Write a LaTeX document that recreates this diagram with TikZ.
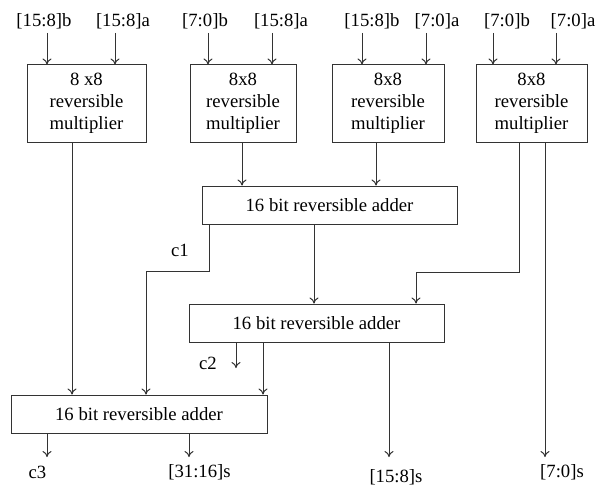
\documentclass[tikz,border=0pt]{standalone}
\usepackage{fontspec}
\setmainfont{Liberation Serif}
\usetikzlibrary{arrows.meta}
\definecolor{linec}{HTML}{333333}
\begin{document}
\begin{tikzpicture}[x=1pt,y=-1pt,
  every node/.style={font=\fontsize{18.7}{22}\selectfont, inner sep=0pt, text=black},
  blk/.style={draw=linec, line width=1pt, fill=white, align=center},
  mult/.style={blk, minimum height=77pt},
  addr/.style={blk, minimum width=255pt, minimum height=38pt},
  wire/.style={draw=linec, line width=1pt},
  arr/.style={wire, -{To[length=6pt,width=9pt]}}]
\useasboundingbox (0,0) rectangle (605,487);

% multipliers
\node[mult, minimum width=119pt] (M1) at (86.5,103.5) {8 x8\\reversible\\multiplier};
\node[mult, minimum width=106pt] (M2) at (243,103.5) {8x8\\reversible\\multiplier};
\node[mult, minimum width=112pt] (M3) at (388,103.5) {8x8\\reversible\\multiplier};
\node[mult, minimum width=111pt] (M4) at (531.5,103.5) {8x8\\reversible\\multiplier};

% adders
\node[addr] (A1) at (329.5,205) {16 bit reversible adder};
\node[addr] (A2) at (316.5,323) {16 bit reversible adder};
\node[addr, minimum width=256pt] (A3) at (139,414) {16 bit reversible adder};

% operand labels
\node (i1) at (44,21) {[15:8]b};
\node (i2) at (123,21) {[15:8]a};
\node (i3) at (205,21) {[7:0]b};
\node (i4) at (281,21) {[15:8]a};
\node (i5) at (372,21) {[15:8]b};
\node (i6) at (437,21) {[7:0]a};
\node (i7) at (507,21) {[7:0]b};
\node (i8) at (573,21) {[7:0]a};

% operand arrows
\foreach \n/\x/\m in {1/47/M1, 2/115/M1, 3/208/M2, 4/272/M2, 5/362/M3, 6/426/M3, 7/493/M4, 8/556/M4} {
  \coordinate (t\n) at (\x,33);
  \draw[arr] (t\n) -- (t\n |- \m.north);
}

% output labels
\node (c1) at (180,250) {c1};
\node (c2) at (208,363) {c2};
\node (c3) at (37.5,472.5) {c3};
\node (s3) at (199.5,472) {[31:16]s};
\node (s2) at (396,477) {[15:8]s};
\node (s1) at (562,472) {[7:0]s};

% wiring columns
\coordinate (x72) at (72,0);
\coordinate (x376) at (376,0);
\coordinate (x519) at (519,0);
\coordinate (x545) at (545,0);
\coordinate (x209) at (209,0);
\coordinate (x314) at (314,0);
\coordinate (x236) at (236,0);
\coordinate (x263) at (263,0);
\coordinate (x389) at (389,0);
\coordinate (x47) at (47,0);
\coordinate (x189) at (189,0);

\coordinate (b1) at (519,272);
\coordinate (b2) at (416,272);
\coordinate (d1) at (209,271);
\coordinate (d2) at (146,271);
\coordinate (e2) at (236,368);
\coordinate (e3) at (47,457);
\coordinate (e4) at (189,457);
\coordinate (e5) at (389,457);
\coordinate (e6) at (545,457);

% multiplier outputs
\draw[arr] (M1.south -| x72) -- (A3.north -| x72);
\draw[arr] (M2.south -| 242,0) -- (A1.north -| 242,0);
\draw[arr] (M3.south -| x376) -- (A1.north -| x376);
\draw[arr] (M4.south -| x519) -- (b1) -- (b2) -- (A2.north -| b2);
\draw[arr] (M4.south -| x545) -- (e6);

% adder outputs
\draw[arr] (A1.south -| x209) -- (d1) -- (d2) -- (A3.north -| d2);
\draw[arr] (A1.south -| x314) -- (A2.north -| x314);
\draw[arr] (A2.south -| x236) -- (e2);
\draw[arr] (A2.south -| x263) -- (A3.north -| x263);
\draw[arr] (A2.south -| x389) -- (e5);
\draw[arr] (A3.south -| x47) -- (e3);
\draw[arr] (A3.south -| x189) -- (e4);
\end{tikzpicture}
\end{document}
